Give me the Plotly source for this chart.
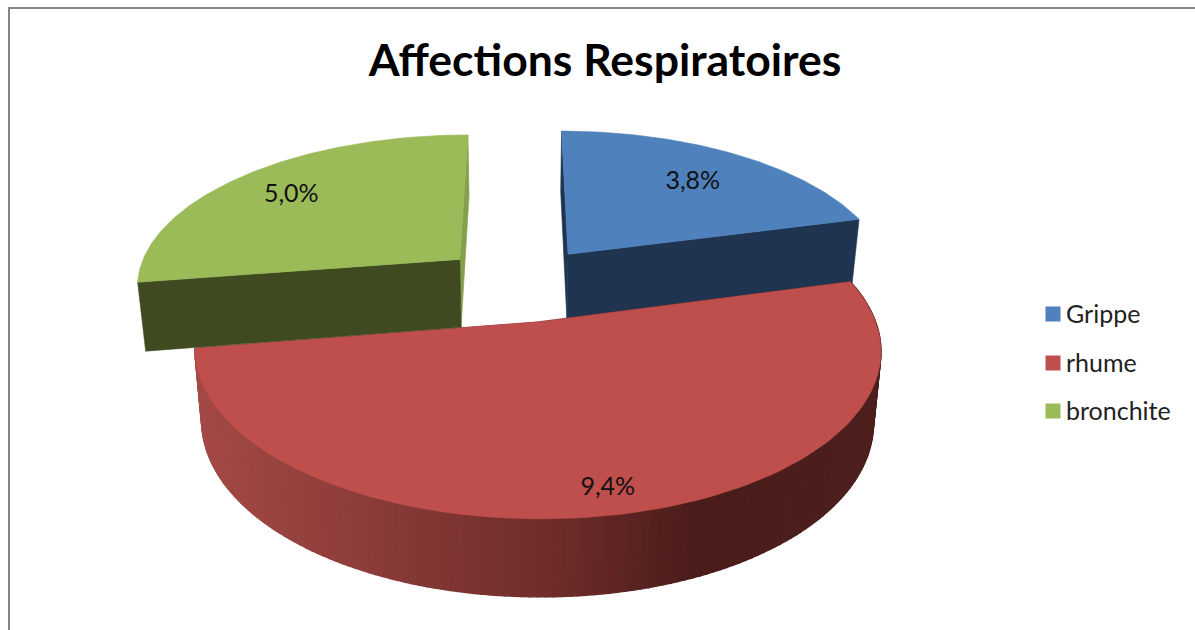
import numpy as np
import plotly.graph_objects as go

# Data
categories = ["Grippe", "rhume", "bronchite"]
values = [3.8, 9.4, 5.0]
value_labels = ["3,8%", "9,4%", "5,0%"]
title_text = "Affections Respiratoires"

# Style
top_colors = ["#4F81BD", "#BE4F4C", "#9BBB59"]
start_wall_colors = ["#1F3450", "#4A1D1B", "#3F4A20"]
end_wall_colors = ["#1F3450", "#4A1D1B", "#84A04C"]
label_radius = [0.73, 0.87, 0.775]
label_turn = [0.0, 0.009, 0.0]
label_drop = 4
FONT = "Lato"

# 3D pie projection parameters
CX, CY, A, B, P = 520.0, 283.4, 325.0, 151.5, 0.16
EXPLODE, K = 0.25, 0.021
WALL0, WALL1 = 69.0, 7.2


def top(u, v):
    w = 1 + P * v
    return CX + A * u / w, CY - B * v / w


def bottom(u, v):
    x, y = top(u, v)
    return CX + (x - CX) * (1 - K), y + WALL0 - WALL1 * v


def rgb(c):
    return tuple(int(c[i:i + 2], 16) for i in (1, 3, 5))


def wall_colour(x):
    xs = [200, 540, 700, 880]
    cs = [rgb(c) for c in ("#A44A46", "#722E2C", "#4A1D1B", "#4E201E")]
    return "rgb(%d,%d,%d)" % tuple(np.interp(x, xs, [c[i] for c in cs]) for i in range(3))


fractions = np.array(values) / sum(values)
ends = np.cumsum(fractions) * 2 * np.pi
starts = ends - fractions * 2 * np.pi
mids = (starts + ends) / 2

fig = go.Figure()


def poly(xs, ys, colour, width=0.6):
    fig.add_trace(go.Scatter(
        x=list(xs) + [xs[0]], y=list(ys) + [ys[0]], mode="lines", fill="toself",
        fillcolor=colour, line=dict(color=colour, width=width),
        hoverinfo="skip", showlegend=False))


def draw_slice(i):
    a0, a1 = starts[i], ends[i]
    ou, ov = EXPLODE * np.sin(mids[i]), EXPLODE * np.cos(mids[i])
    su0, sv0 = ou + np.sin(a0), ov + np.cos(a0)
    su1, sv1 = ou + np.sin(a1), ov + np.cos(a1)

    # straight cut walls
    for (su, sv), colour in (((su1, sv1), end_wall_colors[i]), ((su0, sv0), start_wall_colors[i])):
        p = [top(ou, ov), top(su, sv), bottom(su, sv), bottom(ou, ov)]
        poly([q[0] for q in p], [q[1] for q in p], colour)

    # curved outer wall (only the red slice faces the viewer)
    if i == 1:
        edges = np.linspace(a0, a1, 160)
        for t0, t1 in zip(edges[:-1], edges[1:]):
            p = [top(ou + np.sin(t0), ov + np.cos(t0)), top(ou + np.sin(t1), ov + np.cos(t1)),
                 bottom(ou + np.sin(t1), ov + np.cos(t1)), bottom(ou + np.sin(t0), ov + np.cos(t0))]
            poly([q[0] for q in p], [q[1] for q in p], wall_colour((p[0][0] + p[1][0]) / 2), width=1.5)

    # top face
    t = np.linspace(a0, a1, 120)
    x, y = top(ou + np.sin(t), ov + np.cos(t))
    ax, ay = top(ou, ov)
    poly([ax] + list(x), [ay] + list(y), top_colors[i])


for i in (0, 1, 2):
    draw_slice(i)

# data labels
lx, ly = [], []
for i in range(3):
    angle = mids[i] + label_turn[i]
    u = EXPLODE * np.sin(mids[i]) + label_radius[i] * np.sin(angle)
    v = EXPLODE * np.cos(mids[i]) + label_radius[i] * np.cos(angle)
    x, y = top(u, v)
    lx.append(x)
    ly.append(y + label_drop)
fig.add_trace(go.Scatter(x=lx, y=ly, mode="text", text=value_labels,
                         textfont=dict(family=FONT, size=25, color="#111111"),
                         hoverinfo="skip", showlegend=False))

# legend
legend_marker_x = 1053
legend_text_x = 1066
legend_y = [314, 363, 411]
legend_text_drop = 2.5
for i, name in enumerate(categories):
    fig.add_trace(go.Scatter(
        x=[legend_marker_x], y=[legend_y[i]], mode="markers", name=name,
        marker=dict(symbol="square", size=15, color=top_colors[i]),
        hoverinfo="skip", showlegend=False, cliponaxis=False))
    fig.add_trace(go.Scatter(
        x=[legend_text_x], y=[legend_y[i] + legend_text_drop], mode="text", text=[name],
        textposition="middle right",
        textfont=dict(family=FONT, size=25, color="#222222"),
        hoverinfo="skip", showlegend=False, cliponaxis=False))

fig.update_layout(
    width=1195, height=630, autosize=False,
    margin=dict(l=0, r=0, t=0, b=0),
    paper_bgcolor="white", plot_bgcolor="white",
    xaxis=dict(range=[0, 1195], visible=False, fixedrange=True),
    yaxis=dict(range=[630, 0], visible=False, fixedrange=True),
    showlegend=False,
    title=dict(text="<b>%s</b>" % title_text, x=605 / 1195, y=1 - 60 / 630,
               xanchor="center", yanchor="middle",
               font=dict(family=FONT, size=44.5, color="#000000")),
    shapes=[dict(type="rect", xref="x", yref="y", x0=9, y0=8, x1=1400, y1=900,
                 line=dict(color="#868686", width=2), fillcolor="rgba(0,0,0,0)", layer="below")],
)

fig.write_html("out.html", config=dict(displayModeBar=False),
               default_width="1195px", default_height="630px",
               post_script="document.body.style.margin='0';document.documentElement.style.overflow='hidden';")
